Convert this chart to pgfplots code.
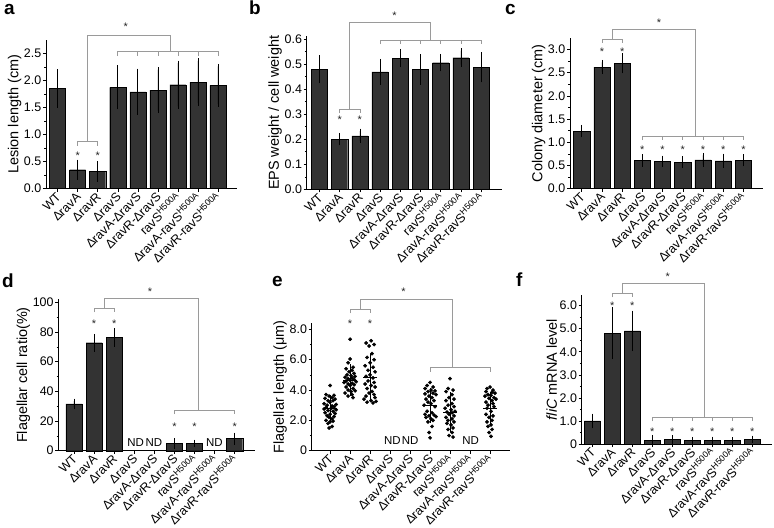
\documentclass[border=0pt]{standalone}
\usepackage{fontspec}
\setmainfont{Liberation Sans}
\usepackage{pgfplots}
\pgfplotsset{compat=1.18}
\definecolor{barc}{HTML}{333333}
\definecolor{brkgray}{HTML}{9A9A9A}
\pgfplotsset{
  panel/.style={
    scale only axis,
    axis lines=left,
    axis line style={-, line width=0.6bp},
    tick align=outside,
    major tick length=3bp,
    minor tick length=1.8bp,
    every tick/.style={black, line width=0.5bp},
    xtick={0,...,8},
    xticklabels={WT,ΔravA,ΔravR,ΔravS,ΔravA-ΔravS,ΔravR-ΔravS,{ravS\textsuperscript{H500A}},{ΔravA-ravS\textsuperscript{H500A}},{ΔravR-ravS\textsuperscript{H500A}}},
    xticklabel style={rotate=45, anchor=east, yshift=-3bp, xshift=-0.5bp, font=\fontsize{12.5}{12.5}\selectfont, inner sep=1bp},
    yticklabel style={font=\fontsize{12.5}{12.5}\selectfont, inner sep=1.5bp},
    ylabel style={font=\fontsize{14.5}{14.5}\selectfont, inner sep=1bp},
    /pgf/number format/assume math mode=true,
    clip=false,
    ymin=0,
  },
  bars/.style={ybar, bar width=0.8, fill=barc, draw=black, line width=0.4bp, bar shift=0pt,
     error bars/.cd, y dir=both, y explicit, error bar style={black, line width=0.6bp},
     error mark options={black, mark size=2.5bp, line width=0.6bp}},
}
\tikzset{
  brkline/.style={draw=brkgray, line width=0.6bp},
  starnode/.style={anchor=base, yshift=-6bp, inner sep=0pt, font=\fontsize{11}{11}\selectfont, text=black!85},
  ndnode/.style={anchor=center, inner sep=0pt, font=\fontsize{11.5}{11.5}\selectfont},
  panelletter/.style={anchor=base west, inner sep=0pt, font=\bfseries\fontsize{19}{19}\selectfont},
}
\begin{document}
\begin{tikzpicture}
\useasboundingbox (0,0) rectangle (774bp,528bp);
\node[panelletter] at (4bp,513bp) {a};
\node[panelletter] at (249bp,513bp) {b};
\node[panelletter] at (505bp,513bp) {c};
\node[panelletter] at (2bp,240bp) {d};
\node[panelletter] at (272bp,241bp) {e};
\node[panelletter] at (516bp,241bp) {f};

% ---------- a ----------
\begin{axis}[panel, at={(46bp,339.3bp)}, anchor=south west, width=191bp, height=148.9bp,
  xmin=-0.58, xmax=8.95, ymax=2.75, ytick={0,0.5,...,2.5}, minor y tick num=1,
  yticklabel style={/pgf/number format/.cd, fixed, fixed zerofill, precision=1},
  ylabel={Lesion length (cm)}]
\addplot[bars] coordinates {
 (0,1.85) +- (0,0.31) (1,0.35) +- (0,0.14) (2,0.32) +- (0,0.145)
 (3,1.87) +- (0,0.36) (4,1.79) +- (0,0.38) (5,1.82) +- (0,0.38)
 (6,1.92) +- (0,0.40) (7,1.97) +- (0,0.39) (8,1.91) +- (0,0.35)};
\draw[brkline] (axis cs:1,0.794) -- (axis cs:1,0.868) -- (axis cs:2,0.868) -- (axis cs:2,0.794);
\draw[brkline] (axis cs:1.5,0.868) -- (axis cs:1.5,2.84) -- (axis cs:5.6,2.84) -- (axis cs:5.6,2.53);
\draw[brkline] (axis cs:3,2.45) -- (axis cs:3,2.53) -- (axis cs:8,2.53) -- (axis cs:8,2.45);
\draw[brkline] (axis cs:4,2.53) -- (axis cs:4,2.45);
\draw[brkline] (axis cs:5,2.53) -- (axis cs:5,2.45);
\draw[brkline] (axis cs:6,2.53) -- (axis cs:6,2.45);
\draw[brkline] (axis cs:7,2.53) -- (axis cs:7,2.45);
\node[starnode] at (axis cs:3.4,3.04) {*};
\node[starnode] at (axis cs:1,0.65) {*};
\node[starnode] at (axis cs:2,0.65) {*};
\end{axis}

% ---------- b ----------
\begin{axis}[panel, at={(306.7bp,338.7bp)}, anchor=south west, width=195bp, height=152.9bp,
  xmin=-0.63, xmax=9.02, ymax=0.61, ytick={0,0.1,...,0.6}, minor y tick num=1,
  yticklabel style={/pgf/number format/.cd, fixed, fixed zerofill, precision=1},
  ylabel={EPS weight / cell weight}]
\addplot[bars] coordinates {
 (0,0.479) +- (0,0.046) (1,0.200) +- (0,0.015) (2,0.213) +- (0,0.019)
 (3,0.468) +- (0,0.042) (4,0.523) +- (0,0.027) (5,0.478) +- (0,0.051)
 (6,0.505) +- (0,0.025) (7,0.525) +- (0,0.028) (8,0.487) +- (0,0.050)};
\draw[brkline] (axis cs:1,0.303) -- (axis cs:1,0.321) -- (axis cs:2,0.321) -- (axis cs:2,0.303);
\draw[brkline] (axis cs:1.5,0.321) -- (axis cs:1.5,0.667) -- (axis cs:5.5,0.667) -- (axis cs:5.5,0.596);
\draw[brkline] (axis cs:3,0.579) -- (axis cs:3,0.596) -- (axis cs:8,0.596) -- (axis cs:8,0.579);
\draw[brkline] (axis cs:4,0.596) -- (axis cs:4,0.579);
\draw[brkline] (axis cs:5,0.596) -- (axis cs:5,0.579);
\draw[brkline] (axis cs:6,0.596) -- (axis cs:6,0.579);
\draw[brkline] (axis cs:7,0.596) -- (axis cs:7,0.579);
\node[starnode] at (axis cs:3.71,0.702) {*};
\node[starnode] at (axis cs:1,0.286) {*};
\node[starnode] at (axis cs:2,0.286) {*};
\end{axis}

% ---------- c ----------
\begin{axis}[panel, at={(570bp,339.3bp)}, anchor=south west, width=193bp, height=150.9bp,
  xmin=-0.58, xmax=8.97, ymax=3.25, ytick={0,0.5,...,3.0}, minor y tick num=1,
  yticklabel style={/pgf/number format/.cd, fixed, fixed zerofill, precision=1},
  ylabel={Colony diameter (cm)}]
\addplot[bars] coordinates {
 (0,1.24) +- (0,0.08) (1,2.62) +- (0,0.10) (2,2.70) +- (0,0.16)
 (3,0.61) +- (0,0.08) (4,0.59) +- (0,0.07) (5,0.57) +- (0,0.075)
 (6,0.62) +- (0,0.10) (7,0.60) +- (0,0.10) (8,0.61) +- (0,0.075)};
\draw[brkline] (axis cs:1,3.14) -- (axis cs:1,3.22) -- (axis cs:2,3.22) -- (axis cs:2,3.14);
\draw[brkline] (axis cs:1.5,3.22) -- (axis cs:1.5,3.44) -- (axis cs:5.6,3.44) -- (axis cs:5.6,1.134);
\draw[brkline] (axis cs:3,1.048) -- (axis cs:3,1.134) -- (axis cs:8,1.134) -- (axis cs:8,1.048);
\draw[brkline] (axis cs:4,1.134) -- (axis cs:4,1.048);
\draw[brkline] (axis cs:5,1.134) -- (axis cs:5,1.048);
\draw[brkline] (axis cs:6,1.134) -- (axis cs:6,1.048);
\draw[brkline] (axis cs:7,1.134) -- (axis cs:7,1.048);
\node[starnode] at (axis cs:3.82,3.62) {*};
\node[starnode] at (axis cs:1,3.0) {*};
\node[starnode] at (axis cs:2,3.0) {*};
\node[starnode] at (axis cs:3,0.89) {*};
\node[starnode] at (axis cs:4,0.89) {*};
\node[starnode] at (axis cs:5,0.89) {*};
\node[starnode] at (axis cs:6,0.89) {*};
\node[starnode] at (axis cs:7,0.89) {*};
\node[starnode] at (axis cs:8,0.89) {*};
\end{axis}

% ---------- d ----------
\begin{axis}[panel, at={(58.3bp,77.3bp)}, anchor=south west, width=196.7bp, height=151.3bp,
  xmin=-0.78, xmax=9.01, ymax=102, ytick={0,20,...,100}, minor y tick num=1,
  ylabel={Flagellar cell ratio(\%)}]
\addplot[bars] coordinates {
 (0,31.5) +- (0,2.0) (1,72.8) +- (0,4.3) (2,76.2) +- (0,4.6)
 (5,4.9) +- (0,1.9) (6,4.9) +- (0,0.9) (8,8.1) +- (0,2.4)};
\draw[brkline] (axis cs:1,93.3) -- (axis cs:1,96.0) -- (axis cs:2,96.0) -- (axis cs:2,93.3);
\draw[brkline] (axis cs:1.5,96.0) -- (axis cs:1.5,102.7) -- (axis cs:6.2,102.7) -- (axis cs:6.2,27.4);
\draw[brkline] (axis cs:5,24.7) -- (axis cs:5,27.4) -- (axis cs:8,27.4) -- (axis cs:8,24.7);
\node[starnode] at (axis cs:3.78,108.8) {*};
\node[starnode] at (axis cs:1,87.4) {*};
\node[starnode] at (axis cs:2,87.4) {*};
\node[starnode] at (axis cs:5,18.0) {*};
\node[starnode] at (axis cs:6,18.0) {*};
\node[starnode] at (axis cs:8,18.0) {*};
\node[ndnode] at (axis cs:3.07,5.4) {ND};
\node[ndnode] at (axis cs:3.98,5.4) {ND};
\node[ndnode] at (axis cs:6.99,5.4) {ND};
\end{axis}

% ---------- e ----------
\begin{axis}[panel, at={(311.7bp,77.3bp)}, anchor=south west, width=198.3bp, height=127.4bp,
  xmin=-0.92, xmax=9.0, ymax=8.4, ytick={0,2,4,6,8}, yticklabels={0,2.0,4.0,6.0,8.0}, minor y tick num=1,
  ylabel={Flagellar length (μm)}]
\addplot[only marks, mark=*, mark size=1.7bp, black] coordinates {
 (0,4.3) (-0.2,3.7) (0.2,3.65) (-0.05,3.6) (0.1,3.5) (-0.25,3.45) (0.25,3.4) (-0.1,3.3) (0.15,3.3) (0,3.2)
 (-0.3,3.1) (0.3,3.05) (-0.15,3.0) (0.1,2.95) (0.2,2.9) (-0.2,2.85) (0.05,2.8) (-0.3,2.75) (0.3,2.7) (-0.1,2.65)
 (0.15,2.6) (-0.25,2.5) (0.25,2.45) (0,2.4) (-0.15,2.3) (0.2,2.25) (-0.05,2.2) (0.1,2.1) (-0.2,2.0) (0.15,1.95)
 (0,1.9) (-0.1,1.8) (0.1,1.6) (-0.05,1.5)
 (1,7.35) (1,6.05) (0.9,5.8) (1.15,5.5) (0.8,5.4) (1.1,5.3) (0.95,5.2) (1.2,5.1) (0.85,5.0) (1.05,4.95)
 (1.25,4.9) (0.75,4.85) (1.1,4.8) (0.9,4.75) (1.2,4.7) (1,4.65) (0.8,4.6) (1.3,4.55) (0.7,4.5) (1.1,4.45)
 (0.9,4.4) (1.2,4.35) (1,4.3) (0.8,4.2) (1.15,4.1) (0.9,4.0) (1.25,3.95) (1.05,3.9) (0.75,3.8) (1.1,3.7)
 (0.9,3.6) (1.15,3.5)
 (2.05,7.25) (1.8,7.1) (2.2,7.0) (1.95,6.9) (2.1,6.4) (1.85,6.15) (2.2,6.0) (2,5.8) (1.75,5.6) (2.15,5.5)
 (1.9,5.3) (2.25,5.2) (2,5.0) (1.8,4.9) (2.15,4.8) (1.9,4.6) (2.2,4.5) (1.75,4.4) (2.05,4.3) (2.25,4.2)
 (1.85,4.1) (2.1,3.9) (1.95,3.8) (2.2,3.7) (1.8,3.6) (2.25,3.5) (1.7,3.4) (2.05,3.3) (2.3,3.25) (1.85,3.2) (2.15,3.15)
 (5,4.5) (4.85,4.3) (5.15,4.2) (4.75,4.1) (5.05,4.0) (5.25,3.95) (4.9,3.9) (5.15,3.8) (4.75,3.75) (5.3,3.7)
 (4.95,3.6) (5.1,3.5) (4.8,3.4) (5.2,3.3) (4.9,3.2) (5.05,3.1) (4.7,3.0) (5.25,2.9) (4.85,2.6) (5.1,2.5)
 (4.75,2.4) (5.2,2.35) (4.95,2.3) (5.3,2.25) (4.8,2.2) (5.05,2.1) (5.15,2.0) (4.9,1.9) (5.1,1.6) (4.95,1.2) (5,0.85)
 (6,4.75) (5.9,4.1) (6.15,4.0) (5.8,3.9) (6.1,3.7) (5.95,3.5) (6.2,3.4) (5.8,3.3) (6.1,3.1) (5.9,3.0)
 (6.2,2.9) (5.75,2.8) (6.05,2.7) (6.25,2.6) (5.85,2.55) (6.1,2.5) (5.95,2.4) (6.2,2.3) (5.8,2.2) (6.1,2.1)
 (5.9,2.0) (6.2,1.9) (5.85,1.8) (6.05,1.7) (6.15,1.5) (5.9,1.4) (6.1,1.2) (5.95,1.0) (6.15,0.9)
 (8,4.2) (7.85,4.1) (8.15,4.0) (7.8,3.9) (8.1,3.85) (8.25,3.8) (7.9,3.7) (8.05,3.65) (7.75,3.6) (8.2,3.5)
 (7.95,3.45) (8.3,3.4) (8.1,3.3) (7.8,3.2) (8.15,3.1) (7.9,3.0) (8.2,2.9) (7.85,2.8) (8.05,2.6) (7.8,2.4)
 (8.15,2.3) (7.95,2.2) (8.1,2.0) (7.85,1.9) (8.05,1.7) (7.9,1.6) (8.1,1.4) (7.95,1.2) (8.05,0.95)};
\addplot[only marks, mark=-, mark size=7bp, black, line width=0.8bp,
  error bars/.cd, y dir=both, y explicit, error bar style={black, line width=0.7bp},
  error mark options={black, mark size=4.5bp, line width=0.7bp}] coordinates {
 (0,2.8) +- (0,0.6) (1,4.65) +- (0,0.75) (2,4.85) +- (0,1.25)
 (5,3.0) +- (0,0.85) (6,2.55) +- (0,1.0) (8,2.8) +- (0,0.8)};
\draw[brkline] (axis cs:1,9.05) -- (axis cs:1,9.32) -- (axis cs:2,9.32) -- (axis cs:2,9.05);
\draw[brkline] (axis cs:1.5,9.32) -- (axis cs:1.5,9.98) -- (axis cs:6.1,9.98) -- (axis cs:6.1,5.47);
\draw[brkline] (axis cs:5,5.21) -- (axis cs:5,5.47) -- (axis cs:8,5.47) -- (axis cs:8,5.21);
\node[starnode] at (axis cs:3.67,10.6) {*};
\node[starnode] at (axis cs:1,8.55) {*};
\node[starnode] at (axis cs:2,8.55) {*};
\node[ndnode] at (axis cs:3.12,0.7) {ND};
\node[ndnode] at (axis cs:4.0,0.7) {ND};
\node[ndnode] at (axis cs:7.03,0.7) {ND};
\end{axis}

% ---------- f ----------
\begin{axis}[panel, at={(581.7bp,84bp)}, anchor=south west, width=190.6bp, height=149bp,
  xmin=-0.53, xmax=9.0, ymax=6.46, ytick={0,1,...,6}, yticklabels={0,1.0,2.0,3.0,4.0,5.0,6.0}, minor y tick num=1,
  ylabel={\textit{fliC} mRNA level}]
\addplot[bars] coordinates {
 (0,1.0) +- (0,0.21) (1,4.80) +- (0,1.01) (2,4.90) +- (0,0.77)
 (3,0.17) +- (0,0.12) (4,0.19) +- (0,0.08) (5,0.16) +- (0,0.04)
 (6,0.17) +- (0,0.045) (7,0.15) +- (0,0.035) (8,0.20) +- (0,0.06)};
\draw[brkline] (axis cs:1,6.36) -- (axis cs:1,6.53) -- (axis cs:2,6.53) -- (axis cs:2,6.36);
\draw[brkline] (axis cs:1.5,6.53) -- (axis cs:1.5,6.97) -- (axis cs:5.58,6.97) -- (axis cs:5.58,1.157);
\draw[brkline] (axis cs:3,0.98) -- (axis cs:3,1.157) -- (axis cs:8,1.157) -- (axis cs:8,0.98);
\draw[brkline] (axis cs:4,1.157) -- (axis cs:4,0.98);
\draw[brkline] (axis cs:5,1.157) -- (axis cs:5,0.98);
\draw[brkline] (axis cs:6,1.157) -- (axis cs:6,0.98);
\draw[brkline] (axis cs:7,1.157) -- (axis cs:7,0.98);
\node[starnode] at (axis cs:3.77,7.37) {*};
\node[starnode] at (axis cs:1,6.1) {*};
\node[starnode] at (axis cs:2,6.1) {*};
\node[starnode] at (axis cs:3,0.61) {*};
\node[starnode] at (axis cs:4,0.61) {*};
\node[starnode] at (axis cs:5,0.61) {*};
\node[starnode] at (axis cs:6,0.61) {*};
\node[starnode] at (axis cs:7,0.61) {*};
\node[starnode] at (axis cs:8,0.61) {*};
\end{axis}
\end{tikzpicture}
\end{document}
